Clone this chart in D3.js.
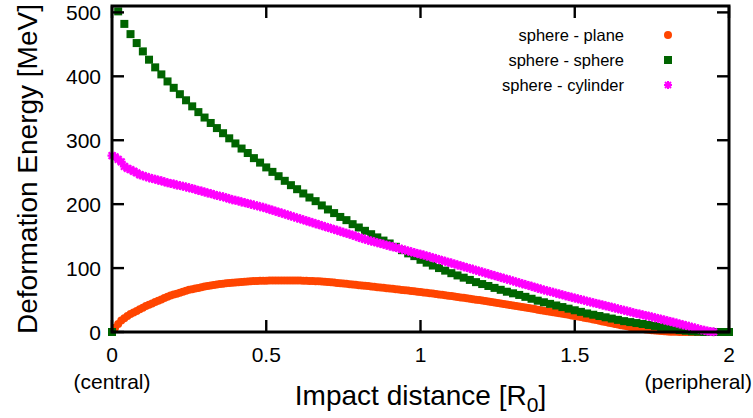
<!DOCTYPE html>
<html>
<head>
<meta charset="utf-8">
<script src="https://cdn.jsdelivr.net/npm/d3@7"></script>
<style>
  body { margin: 0; background: #fff; }
  text { font-family: "Liberation Sans", Arial, sans-serif; fill: #000; }
</style>
</head>
<body>
<div id="chart"></div>
<script>
// impact distances, fine grid (sphere-plane, sphere-cylinder)
var xFine = [
  0,0.01,0.02,0.03,0.04,0.05,0.06,0.07,0.08,0.09,
  0.1,0.11,0.12,0.13,0.14,0.15,0.16,0.17,0.18,0.19,
  0.2,0.21,0.22,0.23,0.24,0.25,0.26,0.27,0.28,0.29,
  0.3,0.31,0.32,0.33,0.34,0.35,0.36,0.37,0.38,0.39,
  0.4,0.41,0.42,0.43,0.44,0.45,0.46,0.47,0.48,0.49,
  0.5,0.51,0.52,0.53,0.54,0.55,0.56,0.57,0.58,0.59,
  0.6,0.61,0.62,0.63,0.64,0.65,0.66,0.67,0.68,0.69,
  0.7,0.71,0.72,0.73,0.74,0.75,0.76,0.77,0.78,0.79,
  0.8,0.81,0.82,0.83,0.84,0.85,0.86,0.87,0.88,0.89,
  0.9,0.91,0.92,0.93,0.94,0.95,0.96,0.97,0.98,0.99,
  1,1.01,1.02,1.03,1.04,1.05,1.06,1.07,1.08,1.09,
  1.1,1.11,1.12,1.13,1.14,1.15,1.16,1.17,1.18,1.19,
  1.2,1.21,1.22,1.23,1.24,1.25,1.26,1.27,1.28,1.29,
  1.3,1.31,1.32,1.33,1.34,1.35,1.36,1.37,1.38,1.39,
  1.4,1.41,1.42,1.43,1.44,1.45,1.46,1.47,1.48,1.49,
  1.5,1.51,1.52,1.53,1.54,1.55,1.56,1.57,1.58,1.59,
  1.6,1.61,1.62,1.63,1.64,1.65,1.66,1.67,1.68,1.69,
  1.7,1.71,1.72,1.73,1.74,1.75,1.76,1.77,1.78,1.79,
  1.8,1.81,1.82,1.83,1.84,1.85,1.86,1.87,1.88,1.89,
  1.9,1.91,1.92,1.93,1.94,1.95,1.96,1.97,1.98,1.99,
  2
];

// impact distances, coarse grid (sphere-sphere)
var xCoarse = [
  0,0.02,0.04,0.06,0.08,0.1,0.12,0.14,0.16,0.18,
  0.2,0.22,0.24,0.26,0.28,0.3,0.32,0.34,0.36,0.38,
  0.4,0.42,0.44,0.46,0.48,0.5,0.52,0.54,0.56,0.58,
  0.6,0.62,0.64,0.66,0.68,0.7,0.72,0.74,0.76,0.78,
  0.8,0.82,0.84,0.86,0.88,0.9,0.92,0.94,0.96,0.98,
  1,1.02,1.04,1.06,1.08,1.1,1.12,1.14,1.16,1.18,
  1.2,1.22,1.24,1.26,1.28,1.3,1.32,1.34,1.36,1.38,
  1.4,1.42,1.44,1.46,1.48,1.5,1.52,1.54,1.56,1.58,
  1.6,1.62,1.64,1.66,1.68,1.7,1.72,1.74,1.76,1.78,
  1.8,1.82,1.84,1.86,1.88,1.9,1.92,1.94,1.96,1.98,
  2
];

// deformation energy [MeV]
var spherePlane = [
  0,6.5,12.5,18,21.5,25,28,30.5,33,35.5,
  38,40.5,42.5,44.5,47,49,51,53,55,57,
  58.5,60,61.5,63,64.5,66,67,68,69,70,
  71,72,72.8,73.6,74.3,75,75.6,76.2,76.7,77.2,
  77.6,78,78.4,78.8,79.1,79.4,79.6,79.8,80,80.2,
  80.3,80.4,80.5,80.6,80.6,80.7,80.7,80.7,80.7,80.6,
  80.5,80.4,80.3,80.1,79.9,79.7,79.4,79.2,78.9,78.6,
  78.2,77.8,77.3,76.8,76.3,75.8,75.3,74.8,74.3,73.8,
  73.3,72.8,72.3,71.8,71.3,70.8,70.2,69.7,69.1,68.6,
  68,67.5,66.9,66.4,65.9,65.3,64.8,64.2,63.6,63,
  62.5,61.9,61.3,60.7,60.1,59.5,58.8,58.2,57.5,56.9,
  56.2,55.5,54.8,54.1,53.4,52.7,52,51.3,50.6,49.9,
  49.2,48.5,47.8,47,46.2,45.4,44.6,43.8,43,42.2,
  41.4,40.6,39.8,39,38.2,37.4,36.6,35.8,35,34.2,
  33.4,32.6,31.8,31,30.2,29.4,28.5,27.7,26.8,26,
  25.1,24.2,23.3,22.4,21.5,20.6,19.6,18.6,17.6,16.6,
  15.6,14.6,13.6,12.6,11.6,10.6,9.7,8.8,7.9,7,
  6.2,5.4,4.7,4,3.4,2.8,2.3,1.8,1.4,1,
  0.7,0.5,0.3,0.2,0.1,0,0,0,0,0,
  0,0,0,0,0,0,0,0,0,0,
  0
];

var sphereSphere = [
  0,501.6,482,466,452,439,426,414,403,392,
  382,372,362.5,353,344,335.5,327,319,311,303,
  295,287,280,272,265,257.5,250.5,243.7,236.5,229.7,
  223.4,216.7,210.4,204.7,198,191.7,186,180,175,168.7,
  163.5,158.3,153,148,143,138.5,133.3,128,123,118.7,
  113,108.5,104,100,96,92,88.5,85,81.5,78,
  75,72,69,66,63,60.5,58,55,52,49,
  46.5,44,41.5,39,36.5,34,31.5,29,27,25,
  23,21,19,17,15.5,14,12.5,11,9.5,8,
  6,4.5,3,2,1,0.5,0,0,0,0,
  0
];

var sphereCylinder = [
  276,274,270,266,259,256,254,251.5,249,246,
  244.5,243,241.5,240,239,237.5,236.5,235,233.5,232.5,
  231.5,230,229,228,227,225.5,224.5,223,221.5,220.5,
  219,217.5,216.5,215,213.5,212.5,211.5,210,208.5,207,
  206,205,203.5,202.5,201,200,198.5,197.5,196,195,
  193.5,192,190.5,189,187.5,186,184.5,183,181.5,180,
  178.5,177,175.5,174,172.5,171,169.5,168,166.5,165,
  163.5,162,160.5,159,157.5,156,154.5,153,151.5,150,
  148,146.5,145,143.7,142.4,141.1,139.8,138.5,137.2,135.9,
  134.6,133.3,132,130.7,129.4,128.1,126.8,125.5,124.2,122.9,
  121.6,120.3,119,117.6,116.2,114.8,113.4,112,110.6,109.2,
  107.8,106.4,105,103.6,102.2,100.8,99.4,98,96.6,95.2,
  93.8,92.4,91,89.6,88.2,86.8,85.4,84,82.6,81.2,
  79.8,78.4,77,75.6,74.2,72.8,71.4,70,68.6,67.2,
  65.9,64.6,63.3,62,60.7,59.4,58.1,56.8,55.5,54.3,
  53.1,51.9,50.7,49.5,48.3,47.1,45.9,44.7,43.5,42.3,
  41.1,39.9,38.7,37.5,36.3,35.1,33.9,32.7,31.5,30.3,
  29.1,28,26.9,25.8,24.7,23.6,22.4,21.2,20,18.8,
  17.6,16.4,15.2,14,12.7,11.4,10.1,8.8,7.5,6.2,
  4.9,3.7,2.6,1.6,0.8,0.3
];

var xTicks = [0, 0.5, 1, 1.5, 2];
var xTickLabels = ["0", "0.5", "1", "1.5", "2"];
var yTicks = [0, 100, 200, 300, 400, 500];
var legendLabels = ["sphere - plane", "sphere - sphere", "sphere - cylinder"];

var width = 753, height = 418;
var margin = {top: 6, right: 24, bottom: 86, left: 112};

var svg = d3.select("#chart").append("svg")
    .attr("width", width)
    .attr("height", height);

var x = d3.scaleLinear().domain([0, 2]).range([margin.left, width - margin.right]);
var y = d3.scaleLinear().domain([0, 510]).range([height - margin.bottom, margin.top]);

var colors = ["#ff4500", "#006400", "#ff00ff"];

// star marker used for sphere - cylinder (plus and cross)
function starPath(s) {
    return "M" + (-s) + ",0L" + s + ",0M0," + (-s) + "L0," + s +
        "M" + (-s * 0.75) + "," + (-s * 0.75) + "L" + (s * 0.75) + "," + (s * 0.75) +
        "M" + (-s * 0.75) + "," + (s * 0.75) + "L" + (s * 0.75) + "," + (-s * 0.75);
}

function zip(xs, ys) {
    return ys.map(function(v, i) { return {x: xs[i], y: v}; });
}

var plot = svg.append("g");

// sphere - plane
plot.append("g").selectAll("circle")
    .data(zip(xFine, spherePlane))
    .enter().append("circle")
    .attr("cx", function(d) { return x(d.x); })
    .attr("cy", function(d) { return y(d.y); })
    .attr("r", 4)
    .style("fill", colors[0]);

// sphere - sphere
plot.append("g").selectAll("rect")
    .data(zip(xCoarse, sphereSphere))
    .enter().append("rect")
    .attr("x", function(d) { return x(d.x) - 4; })
    .attr("y", function(d) { return y(d.y) - 4; })
    .attr("width", 8)
    .attr("height", 8)
    .style("fill", colors[1]);

// sphere - cylinder
plot.append("g").selectAll("path")
    .data(zip(xFine, sphereCylinder))
    .enter().append("path")
    .attr("transform", function(d) { return "translate(" + x(d.x) + "," + y(d.y) + ")"; })
    .attr("d", starPath(4.5))
    .style("stroke", colors[2])
    .style("stroke-width", 2.2)
    .style("fill", "none");

// frame and mirrored inward ticks
var x0 = x(0), x1 = x(2), y0 = y(0), y1 = y(510);
var axes = svg.append("g").style("stroke", "#000").style("stroke-width", 2.4);

axes.selectAll("line.xb").data(xTicks).enter().append("line")
    .attr("x1", function(d) { return x(d); }).attr("x2", function(d) { return x(d); })
    .attr("y1", y0).attr("y2", y0 - 12);
axes.selectAll("line.xt").data(xTicks).enter().append("line")
    .attr("x1", function(d) { return x(d); }).attr("x2", function(d) { return x(d); })
    .attr("y1", y1).attr("y2", y1 + 12);
axes.selectAll("line.yl").data(yTicks).enter().append("line")
    .attr("x1", x0).attr("x2", x0 + 12)
    .attr("y1", function(d) { return y(d); }).attr("y2", function(d) { return y(d); });
axes.selectAll("line.yr").data(yTicks).enter().append("line")
    .attr("x1", x1).attr("x2", x1 - 12)
    .attr("y1", function(d) { return y(d); }).attr("y2", function(d) { return y(d); });

axes.append("rect")
    .attr("x", x0).attr("y", y1)
    .attr("width", x1 - x0).attr("height", y0 - y1)
    .style("fill", "none")
    .style("stroke-width", 3);

// tick labels
svg.append("g").selectAll("text")
    .data(xTicks).enter().append("text")
    .attr("x", function(d) { return x(d); })
    .attr("y", y0 + 30)
    .attr("text-anchor", "middle")
    .style("font-size", "21px")
    .text(function(d, i) { return xTickLabels[i]; });

svg.append("g").selectAll("text")
    .data(yTicks).enter().append("text")
    .attr("x", x0 - 11)
    .attr("y", function(d) { return y(d); })
    .attr("dy", "0.36em")
    .attr("text-anchor", "end")
    .style("font-size", "21px")
    .text(function(d) { return d; });

svg.append("text")
    .attr("x", x(0)).attr("y", y0 + 57)
    .attr("text-anchor", "middle")
    .style("font-size", "21px")
    .text("(central)");

svg.append("text")
    .attr("x", width - 1).attr("y", y0 + 57)
    .attr("text-anchor", "end")
    .style("font-size", "21px")
    .text("(peripheral)");

// axis titles
var xt = svg.append("text")
    .attr("x", (x0 + x1) / 2).attr("y", y0 + 73)
    .attr("text-anchor", "middle")
    .style("font-size", "28px");
xt.append("tspan").text("Impact distance [R");
xt.append("tspan").attr("dy", 7).style("font-size", "21px").text("0");
xt.append("tspan").attr("dy", -7).text("]");

svg.append("text")
    .attr("transform", "translate(37," + ((y0 + y1) / 2) + ") rotate(-90)")
    .attr("text-anchor", "middle")
    .style("font-size", "28px")
    .text("Deformation Energy [MeV]");

// legend
var legend = svg.append("g");
legendLabels.forEach(function(label, i) {
    var ly = 35 + i * 25;
    legend.append("text")
        .attr("x", 624).attr("y", ly)
        .attr("dy", "0.35em")
        .attr("text-anchor", "end")
        .style("font-size", "16.5px")
        .text(label);
    if (i == 0) {
        legend.append("circle").attr("cx", 668).attr("cy", ly).attr("r", 4)
            .style("fill", colors[0]);
    } else if (i == 1) {
        legend.append("rect").attr("x", 664).attr("y", ly - 4)
            .attr("width", 8).attr("height", 8).style("fill", colors[1]);
    } else {
        legend.append("path").attr("transform", "translate(668," + ly + ")")
            .attr("d", starPath(4))
            .style("stroke", colors[2]).style("stroke-width", 2).style("fill", "none");
    }
});
</script>
</body>
</html>
